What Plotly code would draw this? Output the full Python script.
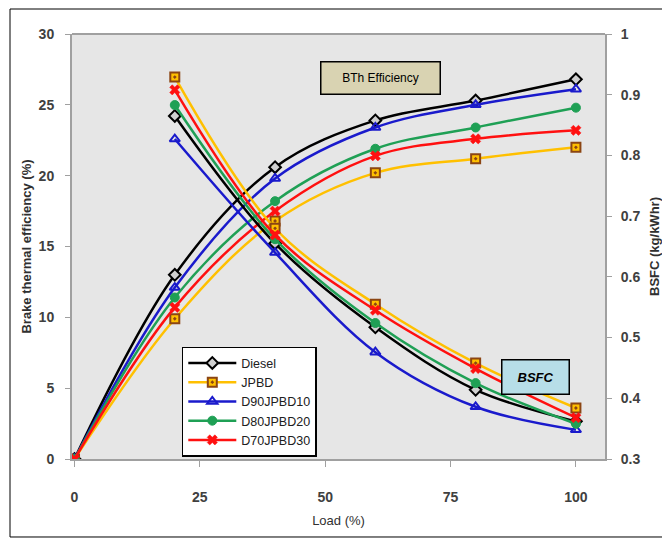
import plotly.graph_objects as go

load = [0, 20, 40, 60, 80, 100]
load_bsfc = [20, 40, 60, 80, 100]

series_names = ["Diesel", "JPBD", "D90JPBD10", "D80JPBD20", "D70JPBD30"]

diesel_bte = [0, 13.0, 20.6, 23.9, 25.3, 26.8]
jpbd_bte = [0, 9.9, 16.8, 20.2, 21.2, 22.0]
d90_bte = [0, 12.1, 19.8, 23.4, 25.0, 26.1]
d80_bte = [0, 11.4, 18.2, 21.9, 23.4, 24.8]
d70_bte = [0, 10.7, 17.5, 21.4, 22.6, 23.2]

diesel_bsfc = [0.865, 0.655, 0.517, 0.414, 0.362]
jpbd_bsfc = [0.929, 0.680, 0.555, 0.458, 0.384]
d90_bsfc = [0.827, 0.640, 0.476, 0.386, 0.348]
d80_bsfc = [0.883, 0.662, 0.524, 0.425, 0.358]
d70_bsfc = [0.908, 0.669, 0.545, 0.449, 0.368]

x_ticks = [0, 25, 50, 75, 100]
y_ticks = [0, 5, 10, 15, 20, 25, 30]
y2_ticks = [0.3, 0.4, 0.5, 0.6, 0.7, 0.8, 0.9, 1]
y2_labels = ["0.3", "0.4", "0.5", "0.6", "0.7", "0.8", "0.9", "1"]

bte_sets = [diesel_bte, jpbd_bte, d90_bte, d80_bte, d70_bte]
bsfc_sets = [diesel_bsfc, jpbd_bsfc, d90_bsfc, d80_bsfc, d70_bsfc]

colors = ["#000000", "#FFC000", "#1A1ACC", "#1FA055", "#FF1010"]
markers = [
    dict(symbol="diamond", size=9, color="#d0d0d0", line=dict(color="#000000", width=2)),
    dict(symbol="square-dot", size=9, color="#FFC000", line=dict(color="#8B4513", width=2)),
    dict(symbol="triangle-up-open", size=9, color="#1A1ACC", line=dict(color="#1A1ACC", width=2)),
    dict(symbol="circle", size=9, color="#1FA055", line=dict(color="#1FA055", width=1)),
    dict(symbol="x", size=9, color="#FF1010", line=dict(color="#FF1010", width=0.5)),
]

fig = go.Figure()

for i, name in enumerate(series_names):
    fig.add_trace(go.Scatter(
        x=load, y=bte_sets[i], name=name, legendgroup=name,
        mode="lines+markers",
        line=dict(color=colors[i], width=2.5, shape="spline", smoothing=1),
        marker=markers[i], yaxis="y",
    ))
for i, name in enumerate(series_names):
    fig.add_trace(go.Scatter(
        x=load_bsfc, y=bsfc_sets[i], name=name, legendgroup=name, showlegend=False,
        mode="lines+markers",
        line=dict(color=colors[i], width=2.5, shape="spline", smoothing=1),
        marker=markers[i], yaxis="y2",
    ))

tickfont = dict(family="Liberation Sans", size=14, color="#404040", weight="bold")

fig.update_layout(
    width=662, height=532,
    margin=dict(l=64, r=65, t=26, b=81),
    paper_bgcolor="white",
    plot_bgcolor="#e6e6e6",
    showlegend=True,
    legend=dict(
        x=0.206, y=0.264, xanchor="left", yanchor="top",
        bgcolor="white", bordercolor="#000000", borderwidth=1.5,
        font=dict(family="Liberation Sans", size=12.5, color="#202020"),
        tracegroupgap=0, itemwidth=48,
    ),
    xaxis=dict(
        range=[-0.5, 105.8], tickvals=x_ticks, showgrid=False, zeroline=False,
        showline=True, linecolor="#a0a0a0", linewidth=2, automargin=False,
        ticks="outside", ticklen=6, tickcolor="#a0a0a0",
        tickfont=tickfont, ticklabelstandoff=18,
        title=dict(text="Load (%)", font=dict(family="Liberation Sans", size=13, color="#303030"), standoff=12),
    ),
    yaxis=dict(
        range=[0, 30], tickvals=y_ticks, showgrid=False, zeroline=False,
        showline=True, linecolor="#a0a0a0", linewidth=2, automargin=False,
        ticks="outside", ticklen=5, tickcolor="#a0a0a0",
        tickfont=tickfont, ticklabelstandoff=8,
        title=dict(text="Brake thermal efficiency (%)", font=dict(family="Liberation Sans", size=13, color="#303030", weight="bold"), standoff=4),
    ),
    yaxis2=dict(
        range=[0.3, 1], tickvals=y2_ticks, ticktext=y2_labels, overlaying="y", side="right",
        showgrid=False, zeroline=False, automargin=False,
        showline=True, linecolor="#a0a0a0", linewidth=2,
        ticks="outside", ticklen=5, tickcolor="#a0a0a0",
        tickfont=tickfont, ticklabelstandoff=6,
        title=dict(text="BSFC (kg/kWhr)", font=dict(family="Liberation Sans", size=13, color="#303030", weight="bold"), standoff=10),
    ),
    shapes=[
        dict(type="rect", xref="paper", yref="paper", x0=-0.1163, x1=1.1107, y0=-0.1835, y1=1.0588,
             line=dict(color="#000000", width=1), fillcolor="rgba(0,0,0,0)", layer="below"),
        dict(type="line", xref="paper", yref="paper", x0=0, x1=1, y0=1, y1=1,
             line=dict(color="#a0a0a0", width=2)),
    ],
    annotations=[
        dict(xref="paper", yref="paper", x=0.578, y=0.896, xanchor="center", yanchor="middle",
             text="BTh Efficiency", showarrow=False,
             font=dict(family="Liberation Sans", size=12, color="#000000"),
             bgcolor="#d9d3b2", bordercolor="#000000", borderwidth=1.5, width=116, height=29),
        dict(xref="paper", yref="paper", x=0.8705, y=0.193, xanchor="center", yanchor="middle",
             text="<b><i>BSFC</i></b>", showarrow=False,
             font=dict(family="Liberation Sans", size=13, color="#000000"),
             bgcolor="#b7dee8", bordercolor="#000000", borderwidth=1.5, width=64, height=31),
    ],
)

fig.write_html("out.html")
